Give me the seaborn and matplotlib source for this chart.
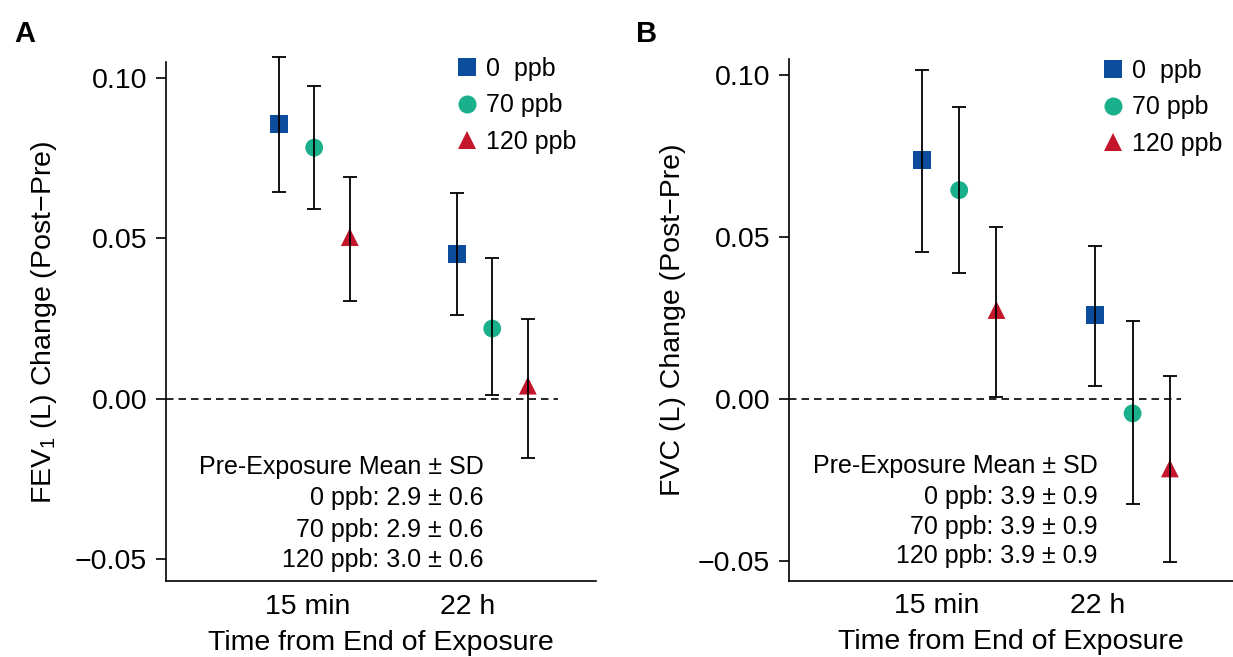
import matplotlib
matplotlib.use("Agg")
import matplotlib.pyplot as plt
import seaborn as sns
import pandas as pd
import numpy as np
from matplotlib.lines import Line2D

# ---------------- data ----------------
times = ["15 min", "22 h"]
doses = ["0  ppb", "70 ppb", "120 ppb"]

# order: (15 min: 0, 70, 120), (22 h: 0, 70, 120)
fev1_mean = [0.0857, 0.0783, 0.0504, 0.0451, 0.0219, 0.0041]
fev1_lo = [0.0644, 0.0591, 0.0305, 0.0260, 0.0012, -0.0184]
fev1_hi = [0.1067, 0.0976, 0.0690, 0.0643, 0.0440, 0.0249]

fvc_mean = [0.0737, 0.0644, 0.0274, 0.0259, -0.0045, -0.0215]
fvc_lo = [0.0454, 0.0388, 0.0005, 0.0040, -0.0325, -0.0504]
fvc_hi = [0.1014, 0.0901, 0.0530, 0.0471, 0.0241, 0.0069]

pre_header = "Pre-Exposure Mean ± SD"
fev1_pre = ["0 ppb: 2.9 ± 0.6", "70 ppb: 2.9 ± 0.6", "120 ppb: 3.0 ± 0.6"]
fvc_pre = ["0 ppb: 3.9 ± 0.9", "70 ppb: 3.9 ± 0.9", "120 ppb: 3.9 ± 0.9"]

ytick_vals = [-0.05, 0.00, 0.05, 0.10]
ytick_labels = ["\u22120.05", "0.00", "0.05", "0.10"]

fev1_ylabel = "FEV$_{1}$ (L) Change (Post\u2212Pre)"
fvc_ylabel = "FVC (L) Change (Post\u2212Pre)"
xlabel = "Time from End of Exposure"

# ---------------- style ----------------
sns.set_style("ticks")
plt.rcParams["font.family"] = ["Liberation Sans", "DejaVu Sans"]
plt.rcParams["mathtext.default"] = "regular"
plt.rcParams["axes.linewidth"] = 1.2
for key in ["text.color", "axes.labelcolor", "axes.edgecolor",
            "xtick.color", "ytick.color"]:
    plt.rcParams[key] = "black"

colors = {doses[0]: "#0b4c9c", doses[1]: "#1bb08c", doses[2]: "#c4162a"}
markers = {doses[0]: "s", doses[1]: "o", doses[2]: "^"}

fig = plt.figure(figsize=(12.33, 6.57), dpi=100)


def make_df(mean, lo, hi, dodge):
    rows = []
    k = 0
    for ti, t in enumerate(times):
        for di, d in enumerate(doses):
            rows.append(dict(time=t, dose=d, x=ti + 1 + (di - 1) * dodge,
                             mean=mean[k], lo=lo[k], hi=hi[k]))
            k += 1
    return pd.DataFrame(rows)


def panel(rect, mean, lo, hi, dodge, xlim, ylim, ticks_x, dash_end, ylabel,
          ylab_xy, xlab_xy, pre_lines, pre_x, pre_ys, leg_xy, letter, letter_xy):
    ax = fig.add_axes(rect)
    df = make_df(mean, lo, hi, dodge)
    sns.scatterplot(data=df, x="x", y="mean", hue="dose", style="dose",
                    hue_order=doses, style_order=doses, palette=colors,
                    markers=markers, s=165, linewidth=0, ax=ax, zorder=2,
                    legend=False, clip_on=False)
    ax.errorbar(df["x"], df["mean"],
                yerr=[df["mean"] - df["lo"], df["hi"] - df["mean"]],
                fmt="none", ecolor="black", elinewidth=1.3, capsize=4.8,
                capthick=1.3, zorder=3, clip_on=False)
    ax.hlines(0, xlim[0], dash_end, colors="black", linewidth=1.2,
              linestyles=(0, (4.5, 3.0)), zorder=1)
    ax.set_xlim(*xlim)
    ax.set_ylim(*ylim)
    ax.spines["top"].set_visible(False)
    ax.spines["right"].set_visible(False)
    ax.spines["left"].set_bounds(ylim[0], 0.105)
    ax.set_yticks(ytick_vals)
    ax.set_yticklabels(ytick_labels)
    ax.set_xticks(ticks_x)
    ax.set_xticklabels(times)
    ax.tick_params(axis="y", length=7.5, width=1.2, pad=6, labelsize=20.5,
                   colors="black")
    ax.tick_params(axis="x", length=0, pad=9, labelsize=20.5, colors="black")
    ax.set_ylabel(ylabel, fontsize=20.5)
    ax.yaxis.set_label_coords(*ylab_xy)
    ax.set_xlabel(xlabel, fontsize=20.5)
    ax.xaxis.set_label_coords(*xlab_xy)
    for txt, yy in zip([pre_header] + pre_lines, pre_ys):
        ax.text(pre_x, yy, txt, transform=ax.transAxes, ha="right",
                va="center", fontsize=18)
    handles = [Line2D([], [], linestyle="none", marker=markers[d],
                      markersize=13, markerfacecolor=colors[d],
                      markeredgewidth=0) for d in doses]
    ax.legend(handles, doses, loc="upper left", bbox_to_anchor=leg_xy,
              frameon=False, fontsize=18, borderpad=0, borderaxespad=0,
              handlelength=0.75, handletextpad=0.4, labelspacing=0.5)
    fig.text(letter_xy[0], letter_xy[1], letter, fontsize=21,
             fontweight="bold", va="baseline", ha="left")
    return ax


W, H = 1233.0, 657.0
# panel A: 0 at 398.8px, 3208 px/unit
ylimA = (-0.0568, 0.112)
topA = 398.8 - ylimA[1] * 3208
botA = 398.8 - ylimA[0] * 3208
rectA = [166 / W, (H - botA) / H, 430 / W, (botA - topA) / H]
panel(rectA, fev1_mean, fev1_lo, fev1_hi, 0.2, (0.1674, 2.583), ylimA,
      [0.962, 1.861], 2.37, fev1_ylabel, (-0.2477, 0.4772), (0.5, -0.0898),
      fev1_pre, 0.738, [0.2105, 0.1524, 0.0942, 0.0388], (0.678, 0.968),
      "A", (14 / W, 1 - 42 / H))

# panel B: 0 at 398.8px, 3240 px/unit
ylimB = (-0.0562, 0.112)
topB = 398.8 - ylimB[1] * 3240
botB = 398.8 - ylimB[0] * 3240
rectB = [789 / W, (H - botB) / H, 444 / W, (botB - topB) / H]
panel(rectB, fvc_mean, fvc_lo, fvc_hi, 0.215, (0.0185, 2.579), ylimB,
      [0.870, 1.800], 2.28, fvc_ylabel, (-0.231, 0.4798), (0.5, -0.0892),
      fvc_pre, 0.695, [0.211, 0.1534, 0.0996, 0.0451], (0.7077, 0.958),
      "B", (636 / W, 1 - 42 / H))

fig.savefig("out.png", dpi=100)
